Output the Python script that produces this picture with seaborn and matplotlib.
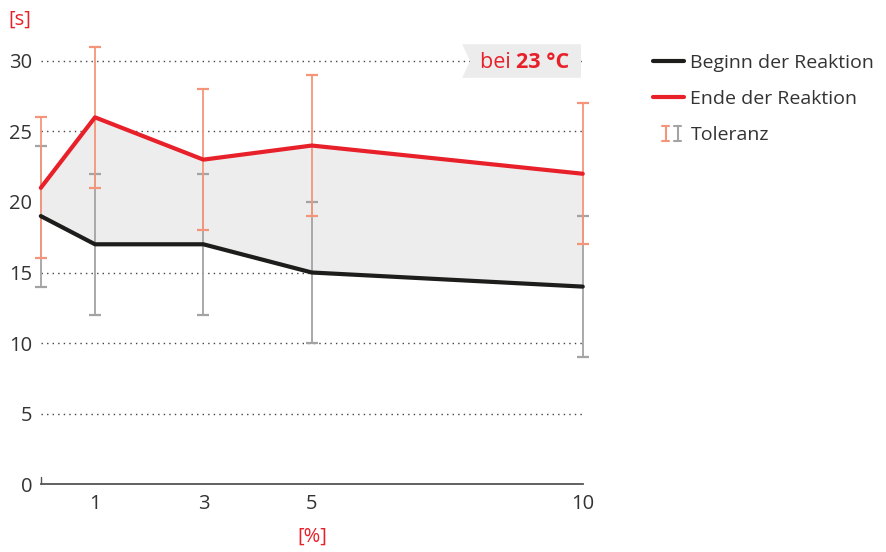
import numpy as np
import pandas as pd
import matplotlib
matplotlib.use("Agg")
import matplotlib.pyplot as plt
import seaborn as sns
from matplotlib.lines import Line2D
from matplotlib.legend_handler import HandlerBase
from matplotlib.patches import Polygon

# data
konz = [0, 1, 3, 5, 10]
beginn = [19, 17, 17, 15, 14]
beginn_lo = [14, 12, 12, 10, 9]
beginn_hi = [24, 22, 22, 20, 19]
ende = [21, 26, 23, 24, 22]
ende_lo = [16, 21, 18, 19, 17]
ende_hi = [26, 31, 28, 29, 27]
xticks = [1, 3, 5, 10]
yticks = [0, 5, 10, 15, 20, 25, 30]

RED = "#e8202a"
BLACK = "#1d1d1b"
ORANGE = "#f4957a"
GREY = "#a3a3a3"
TXT = "#333333"
FS = 14.5

sns.set_theme(style="white")
plt.rcParams["font.family"] = ["Open Sans", "DejaVu Sans"]

df = pd.DataFrame({"x": konz, "beginn": beginn, "ende": ende})

fig = plt.figure(figsize=(8.87, 5.52), dpi=100)
ax = fig.add_axes([0.046, 0.123, 0.611, 0.805])

ax.fill_between(df["x"], df["beginn"], df["ende"], color="#ededed", lw=0, zorder=1)

for y in yticks[1:]:
    ax.axhline(y, color="#444444", lw=1, ls=(0, (1, 3)), zorder=0.5)


def tol(mid, lo, hi, color):
    mid = np.array(mid)
    err = [mid - np.array(lo), np.array(hi) - mid]
    cont = ax.errorbar(konz, mid, yerr=err, fmt="none", ecolor=color, elinewidth=1.3,
                       capsize=4, capthick=1.6, zorder=2)
    for art in cont.lines[1] + cont.lines[2]:
        art.set_clip_on(False)


tol(beginn, beginn_lo, beginn_hi, GREY)
tol(ende, ende_lo, ende_hi, ORANGE)

sns.lineplot(data=df, x="x", y="beginn", color=BLACK, lw=3, ax=ax, zorder=3)
sns.lineplot(data=df, x="x", y="ende", color=RED, lw=3, ax=ax, zorder=3)
for ln in ax.lines:
    ln.set_clip_on(False)

ax.set_xlim(0, 10)
ax.set_ylim(0, 31.5)
ax.set_xticks(xticks)
ax.set_yticks(yticks)
ax.set_xlabel("")
ax.set_ylabel("")
for s in ["top", "right", "left"]:
    ax.spines[s].set_visible(False)
ax.spines["bottom"].set_color("#555555")
ax.spines["bottom"].set_linewidth(1.3)
ax.spines["bottom"].set_clip_on(False)
ax.tick_params(axis="x", direction="in", length=7, width=1, color="#555555",
               labelsize=FS, labelcolor=TXT, pad=7)
ax.tick_params(axis="y", length=0, labelsize=FS, labelcolor=TXT, pad=6)
# extra tick at 0 on the axis line
ax.plot([0, 0], [0, 0.5], color="#555555", lw=1, clip_on=False)

fig.text(0.010, 0.965, "[s]", color=RED, fontsize=FS, va="center", ha="left")
fig.text(0.352, 0.027, "[%]", color=RED, fontsize=FS, va="center", ha="center")

# "bei 23 °C" box
box = Polygon([(0.521, 0.920), (0.655, 0.920), (0.655, 0.859), (0.521, 0.859),
               (0.530, 0.8895)], closed=True, transform=fig.transFigure,
              facecolor="#ececec", edgecolor="none", zorder=5)
fig.add_artist(box)
t1 = fig.text(0.541, 0.886, "bei ", color=RED, fontsize=15.5, va="center", ha="left",
              zorder=6)
fig.canvas.draw()
bb = t1.get_window_extent()
fig.text(bb.x1 / fig.bbox.width, 0.886, "23 °C", color=RED, fontsize=15.5,
         fontweight="bold", va="center", ha="left", zorder=6)


class Tol:
    def __init__(self, colors):
        self.colors = colors


class TolHandler(HandlerBase):
    def create_artists(self, legend, orig_handle, xdescent, ydescent, width,
                       height, fontsize, trans):
        arts = []
        cx0 = -xdescent + width * 0.4
        y0 = -ydescent - height * 0.05
        y1 = -ydescent + height * 1.0
        for i, c in enumerate(orig_handle.colors):
            cx = cx0 + i * width * 0.4
            w = width * 0.12
            for xs, ys in [([cx, cx], [y0, y1]), ([cx - w, cx + w], [y0, y0]),
                           ([cx - w, cx + w], [y1, y1])]:
                ln = Line2D(xs, ys, color=c, lw=1.5, transform=trans)
                arts.append(ln)
        return arts


handles = [Line2D([], [], color=BLACK, lw=3), Line2D([], [], color=RED, lw=3),
           Tol([ORANGE, GREY])]
labels = ["Beginn der Reaktion", "Ende der Reaktion", "Toleranz"]
leg = fig.legend(handles, labels, loc="upper left", bbox_to_anchor=(0.717, 0.934),
                 frameon=False, fontsize=14, handlelength=1.55, handletextpad=0.35,
                 labelspacing=0.93, labelcolor=TXT,
                 handler_map={Tol: TolHandler()})

fig.savefig("out.png", dpi=100)
